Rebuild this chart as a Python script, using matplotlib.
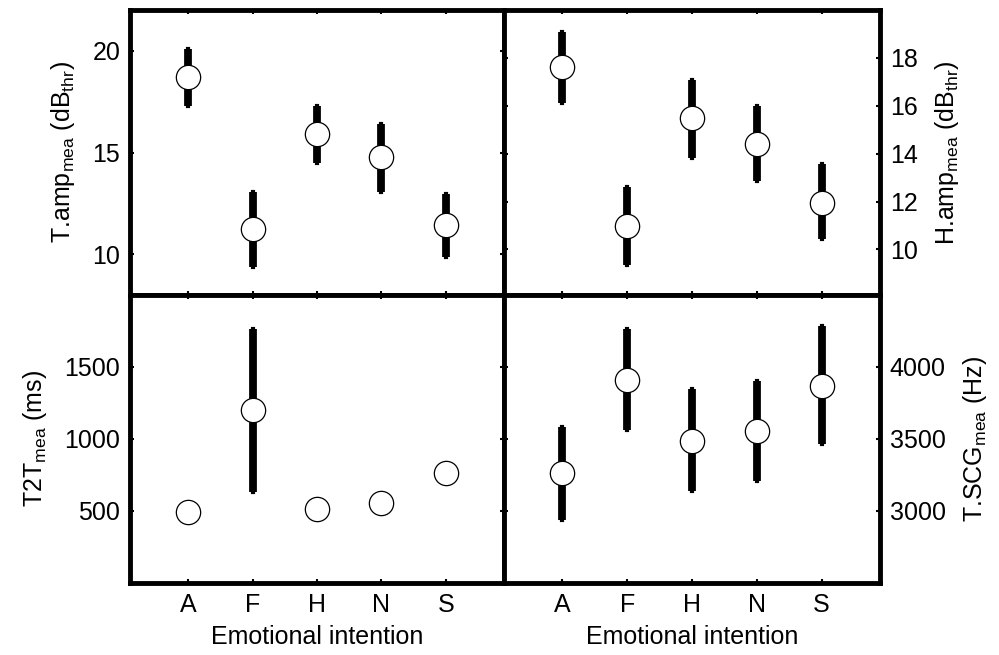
import matplotlib.pyplot as plt
import numpy as np

plt.rcParams['font.family'] = ['Liberation Sans', 'DejaVu Sans']
plt.rcParams['mathtext.default'] = 'regular'

emotions = ['A', 'F', 'H', 'N', 'S']

# top left: T.amp
tamp_mean = [18.70, 11.22, 15.89, 14.77, 11.45]
tamp_lo = [17.27, 9.38, 14.48, 13.07, 9.89]
tamp_hi = [20.08, 13.04, 17.27, 16.39, 12.98]

# top right: H.amp
hamp_mean = [17.61, 11.00, 15.48, 14.40, 11.95]
hamp_lo = [16.12, 9.35, 13.82, 12.88, 10.45]
hamp_hi = [19.07, 12.60, 17.09, 16.01, 13.56]

# bottom left: T2T (only F has a bar)
t2t_mean = [495, 1201, 512, 553, 762]
t2t_lo = [np.nan, 634, np.nan, np.nan, np.nan]
t2t_hi = [np.nan, 1762, np.nan, np.nan, np.nan]

# bottom right: T.SCG
scg_mean = [3262, 3910, 3488, 3558, 3870]
scg_lo = [2938, 3562, 3139, 3208, 3463]
scg_hi = [3585, 4262, 3845, 3903, 4285]

fig = plt.figure(figsize=(9.99, 6.55), dpi=100)
W, H = 999.0, 655.0
FS = 18


def panel(rect, mean, lo, hi, ylim, yticks, ylabel, right=False, bottom=False):
    l, t, r, b = rect
    ax = fig.add_axes([l / W, 1 - b / H, (r - l) / W, (b - t) / H])
    x = np.arange(1, len(emotions) + 1)
    ax.vlines(x, lo, hi, color='black', lw=3, capstyle='projecting', zorder=2)
    ax.vlines(x, lo, hi, color='black', lw=5.6, capstyle='butt', zorder=2)
    ax.plot(x, mean, 'o', ms=17.5, mfc='white', mec='black', mew=0.9, zorder=3)
    ax.set_xlim(0.1, 5.9)
    ax.set_ylim(*ylim)
    ax.set_yticks(yticks)
    ax.set_xticks(x)
    for s in ax.spines.values():
        s.set_linewidth(3.5)
    ax.tick_params(direction='in', length=3, width=1.5, top=True, bottom=True,
                   left=True, right=True, labelsize=FS, pad=7)
    if right:
        ax.tick_params(labelleft=False, labelright=True)
        ax.yaxis.set_label_position('right')
    if bottom:
        ax.set_xticklabels(emotions)
        ax.set_xlabel('Emotional intention', fontsize=FS, labelpad=6)
    else:
        ax.tick_params(labelbottom=False)
    ax.set_ylabel(ylabel, fontsize=FS, labelpad=11)
    return ax


panel((130, 10, 504, 295), tamp_mean, tamp_lo, tamp_hi, (8, 22), [10, 15, 20],
      'T.amp$_{mea}$ (dB$_{thr}$)')
panel((504, 10, 880, 295), hamp_mean, hamp_lo, hamp_hi, (8.1, 20.0),
      [10, 12, 14, 16, 18], 'H.amp$_{mea}$ (dB$_{thr}$)', right=True)
panel((130, 295, 504, 583), t2t_mean, t2t_lo, t2t_hi, (0, 2000),
      [500, 1000, 1500], 'T2T$_{mea}$ (ms)', bottom=True)
panel((504, 295, 880, 583), scg_mean, scg_lo, scg_hi, (2500, 4500),
      [3000, 3500, 4000], 'T.SCG$_{mea}$ (Hz)', right=True, bottom=True)

fig.savefig('out.png', dpi=100)
